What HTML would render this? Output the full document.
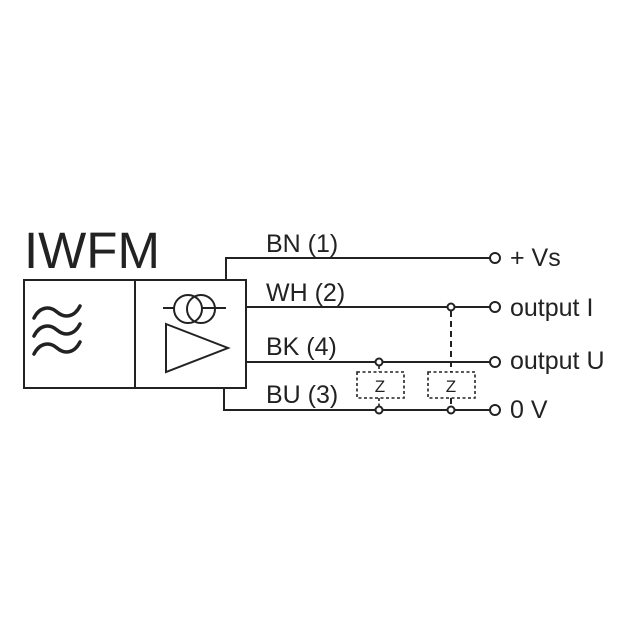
<!DOCTYPE html>
<html><head><style>
html,body{margin:0;padding:0;background:#fff;}
svg{display:block;}
text{font-family:"Liberation Sans",sans-serif;fill:#222;}
</style></head><body>
<svg width="643" height="640" viewBox="0 0 643 640" xmlns="http://www.w3.org/2000/svg">
<text x="24" y="268" font-size="51">IWFM</text>
<g fill="none" stroke="#222" stroke-width="2">
<rect x="24" y="280" width="222" height="108"/>
<line x1="135" y1="280" x2="135" y2="388"/>
<polyline points="226,280 226,258 490,258"/>
<line x1="246" y1="307" x2="490" y2="307"/>
<line x1="246" y1="362" x2="490" y2="362"/>
<polyline points="224,388 224,410 490,410"/>
<line x1="163" y1="308" x2="226" y2="308"/>
<circle cx="188" cy="309" r="14" fill="#fff"/>
<circle cx="201" cy="309" r="14"/>
<polygon points="166,324 228,348 166,372"/>
<circle cx="495" cy="258" r="5" fill="#fff"/>
<circle cx="495" cy="307" r="5" fill="#fff"/>
<circle cx="495" cy="362" r="5" fill="#fff"/>
<circle cx="495" cy="410" r="5" fill="#fff"/>
<circle cx="379" cy="362" r="3.5" fill="#fff"/>
<circle cx="379" cy="410" r="3.5" fill="#fff"/>
<circle cx="451" cy="307" r="3.5" fill="#fff"/>
<circle cx="451" cy="410" r="3.5" fill="#fff"/>
</g>
<g fill="none" stroke="#222" stroke-width="1.6" stroke-dasharray="3,2.5">
<rect x="357" y="372" width="47" height="26"/>
<rect x="428" y="372" width="47" height="26"/>
<line x1="379" y1="366" x2="379" y2="372"/>
<line x1="379" y1="398" x2="379" y2="406"/>
</g>
<g fill="none" stroke="#222" stroke-width="2" stroke-dasharray="6,4">
<line x1="451" y1="311" x2="451" y2="372"/>
<line x1="451" y1="398" x2="451" y2="406"/>
</g>
<g fill="none" stroke="#222" stroke-width="3.5" stroke-linecap="round">
<path d="M34,318 C40,306 50,306 57,312 C64,318 74,318 80,306"/>
<path d="M34,336 C40,324 50,324 57,330 C64,336 74,336 80,324"/>
<path d="M34,354 C40,342 50,342 57,348 C64,354 74,354 80,342"/>
</g>
<text x="380" y="392" font-size="17" text-anchor="middle">Z</text>
<text x="451" y="392" font-size="17" text-anchor="middle">Z</text>
<g font-size="25">
<text x="266" y="252">BN (1)</text>
<text x="266" y="301">WH (2)</text>
<text x="266" y="355">BK (4)</text>
<text x="266" y="403">BU (3)</text>
<text x="510" y="266">+ Vs</text>
<text x="510" y="316">output I</text>
<text x="510" y="369">output U</text>
<text x="510" y="418">0 V</text>
</g>
</svg>
</body></html>
